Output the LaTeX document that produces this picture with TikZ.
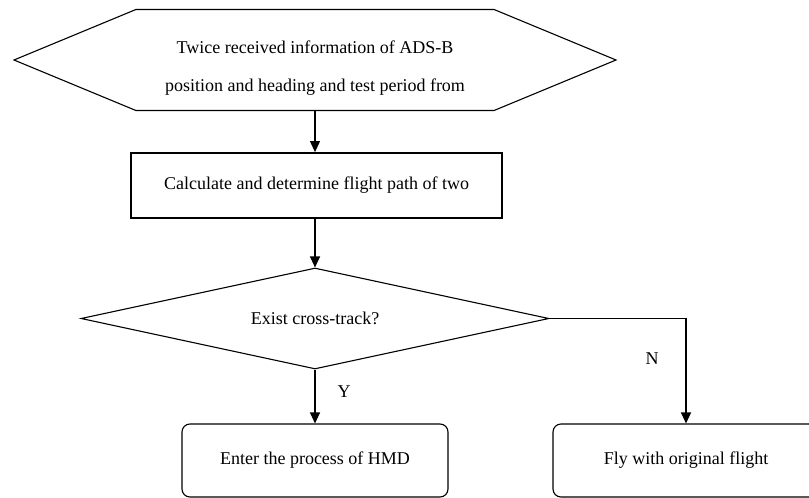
\documentclass[tikz,border=0pt]{standalone}
\usepackage{fontspec}
\setmainfont{Liberation Serif}
\usetikzlibrary{shapes.geometric,shapes.symbols,arrows.meta}

\begin{document}
\begin{tikzpicture}[x=1pt,y=-1pt,
    every node/.style={font=\fontsize{18}{22}\selectfont},
    every label/.style={font=\fontsize{18}{22}\selectfont},
    box/.style={draw, line width=1.1pt, rounded corners=8pt, minimum width=266pt, minimum height=73pt},
    flow/.style={-{Triangle[length=11pt,width=10pt]}, line width=1.1pt}]
    \useasboundingbox (0,0) rectangle (809,498);
    % input of the two ADS-B reports
    \node [draw, line width=1.1pt, signal, signal to=west and east, signal pointer angle=45,
        minimum width=602pt, minimum height=101pt,
        label={[align=center, yshift=-8pt]center:Twice received information of ADS-B\\[16pt]position and heading and test period from}]
        (input) at (315,60) {};
    \node [draw, line width=1.8pt, minimum width=371pt, minimum height=65pt] (calc) at (316.5,185.5)
        {Calculate and determine flight path of two\hspace{18pt}};
    \node [draw, line width=1.1pt, diamond, aspect=4.63, minimum width=468pt, minimum height=101pt] (cross) at (315,318.5)
        {Exist cross-track?};
    \node [box] (hmd) at (315,460.5) {Enter the process of HMD};
    \node [box] (orig) at (686,460.5) {Fly with original flight};
    \node (yes) at (344,392) {Y};
    \node (no) at (652,359) {N};
    \draw [flow] (input.south) -- (input.south |- calc.north);
    \draw [flow] (input.south |- calc.south) -- (cross.north);
    \draw [flow] (cross.south) -- (hmd.north);
    \draw [flow] (cross.east) -| (orig.north);
\end{tikzpicture}
\end{document}
